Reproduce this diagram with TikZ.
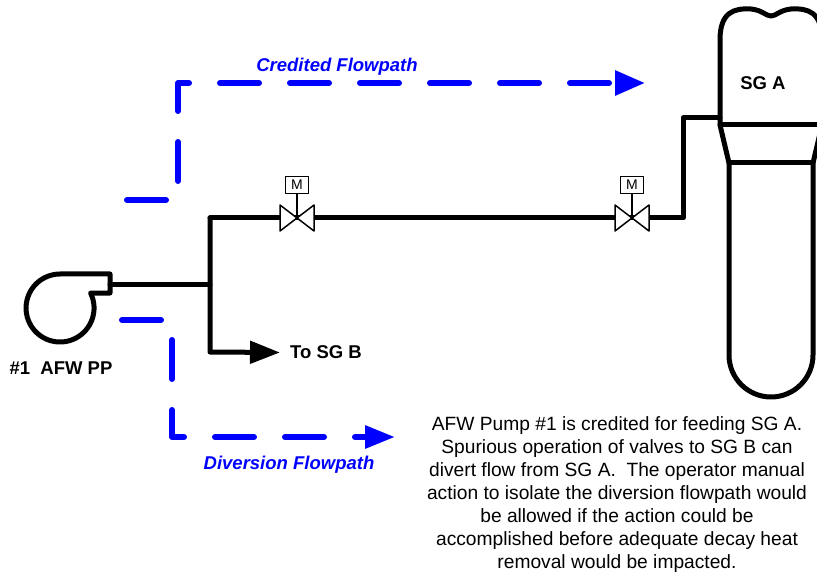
\documentclass[tikz,border=0pt]{standalone}
\usepackage{fontspec}
\setmainfont{Liberation Sans}
\usetikzlibrary{arrows.meta}
\definecolor{flowblue}{RGB}{0,0,255}
\begin{document}
\begin{tikzpicture}[x=1pt, y=-1pt, line join=round, line cap=round,
  pipe/.style={line width=5pt},
  flow/.style={draw=flowblue, line width=6pt, dash pattern=on 39pt off 31pt},
  lbl/.style={inner sep=0pt, font=\fontsize{18.5}{22}\selectfont\bfseries},
  flowlbl/.style={inner sep=0pt, text=flowblue, font=\fontsize{18.5}{22}\selectfont\bfseries\itshape},
  motor/.style={draw, line width=1.5pt, fill=white, minimum width=23pt, minimum height=17pt, inner sep=0pt, font=\fontsize{14}{14}\selectfont}]
\def\vw{17} \def\vh{13}
\useasboundingbox (0,0) rectangle (817,572);
% pipe points
\coordinate (pout) at (110,285);
\coordinate (jn) at (210,285);
\coordinate (jtop) at (210,218);
\coordinate (jbot) at (210,352);
\coordinate (v1) at (297,218);
\coordinate (v2) at (632,218);
\coordinate (riser) at (683,218);
\coordinate (sgin) at (720,118);
\node[lbl, anchor=west] (tosgb) at (290,352.5) {To SG B};
% pump
\draw[pipe] (60,274) -- (110,274) -- (110,293) -- (90.6,293.1) arc (-26:270:34);
\node[lbl] (pplbl) at (61,368) {\#1\ \ AFW PP};
% piping
\draw[pipe] (pout) -- (jn);
\draw[pipe, -{Triangle[length=30pt,width=22pt]}] (jtop) -- (jbot) -- ([xshift=-10pt]tosgb.west);
\draw[pipe] (jtop) -- (v1) -- (v2) -- (riser) |- (sgin);
% valves
\foreach \v in {v1,v2}{
  \draw[line width=1.5pt, fill=white] ([shift={(-\vw,-\vh)}]\v) -- ([shift={(-\vw,\vh)}]\v) -- (\v) -- cycle
    ([shift={(\vw,-\vh)}]\v) -- ([shift={(\vw,\vh)}]\v) -- (\v) -- cycle;
  \node[motor] (m\v) at ([yshift=33pt]\v) {M};
  \draw[line width=1.5pt] (m\v) -- (\v);
}
% steam generator
\draw[pipe] (720,125) -- (720,40) .. controls (720,12) and (734,8) .. (751,9)
  .. controls (762,10) and (766,16) .. (771,16) .. controls (776,16) and (780,10) .. (791,9)
  .. controls (808,8) and (822,12) .. (822,40) -- (822,125) -- (813,163) -- (813,355)
  arc (0:180:42) -- (729,163) -- cycle;
\draw[pipe] (720,125) -- (822,125) (729,163) -- (813,163);
\node[lbl] (sga) at (763,83.5) {SG A};
% flowpaths
\draw[flow, -{Triangle[length=30pt,width=24pt]}] (127,200) -- (178,200) -- (178,83) -- (645,83);
\draw[flow, -{Triangle[length=30pt,width=22pt]}] (122,320) -- (172,320) -- (172,437) -- (395,437);
\node[flowlbl] (credlbl) at (337,67) {Credited Flowpath};
\node[flowlbl] (divlbl) at (289,465) {Diversion Flowpath};
% note
\node[anchor=north, align=center, inner sep=0pt, font=\fontsize{19.2}{23}\selectfont] (note) at (617,416)
  {AFW Pump \#1 is credited for feeding SG A.\\
   Spurious operation of valves to SG B can\\
   divert flow from SG A.\ \ The operator manual\\
   action to isolate the diversion flowpath would\\
   be allowed if the action could be\\
   accomplished before adequate decay heat\\
   removal would be impacted.};
\end{tikzpicture}
\end{document}
